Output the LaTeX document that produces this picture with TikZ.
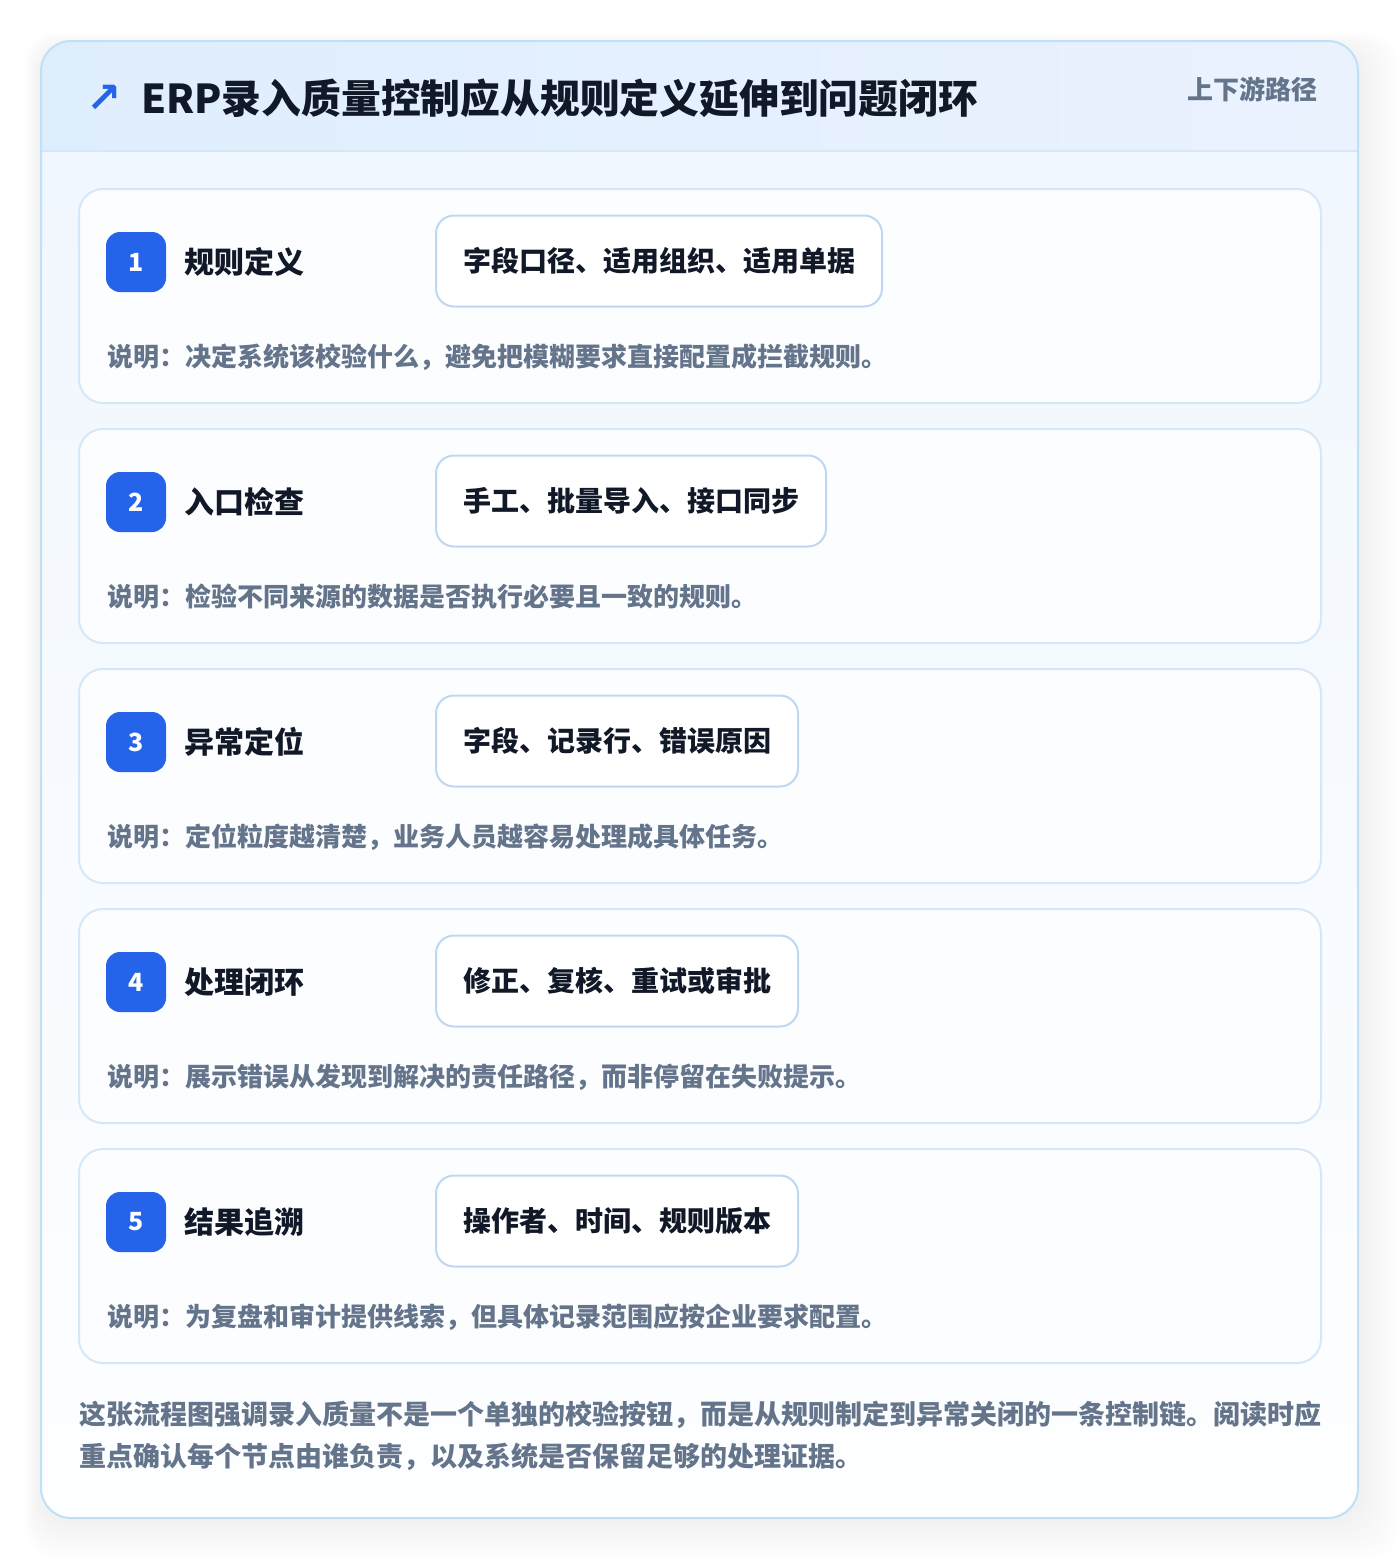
\documentclass[tikz,border=0pt]{standalone}
\usepackage{fontspec}
\setmainfont{Noto Sans CJK SC}
\newfontfamily\symfont{DejaVu Sans}
\usetikzlibrary{positioning}

\definecolor{pageline}{HTML}{BEE1F6}
\definecolor{headleft}{HTML}{DFEEFD}
\definecolor{headright}{HTML}{EAF2FE}
\definecolor{bodytop}{HTML}{F1F7FE}
\definecolor{bodybottom}{HTML}{FDFEFF}
\definecolor{cardline}{HTML}{D6E7F8}
\definecolor{cardfill}{HTML}{FBFDFF}
\definecolor{chipline}{HTML}{BFD7F3}
\definecolor{stepblue}{HTML}{2563EB}
\definecolor{inkdark}{HTML}{111827}
\definecolor{inkgray}{HTML}{64748B}

\begin{document}
\begin{tikzpicture}[x=0.5pt,y=0.5pt,yscale=-1,xscale=1,
  card/.style={draw=cardline, fill=cardfill, line width=1pt, rounded corners=12pt, minimum width=621pt, minimum height=107pt},
  badge/.style={fill=stepblue, text=white, rounded corners=7pt, minimum size=30pt, inner sep=0pt, font=\fontsize{12.5}{15}\selectfont\bfseries},
  steptitle/.style={anchor=west, inner sep=0pt, text=inkdark, font=\fontsize{15}{18}\selectfont\bfseries},
  chip/.style={anchor=west, draw=chipline, fill=white, line width=1pt, rounded corners=9pt, minimum height=45.5pt, inner xsep=13.5pt, text=inkdark, font=\fontsize{14}{17}\selectfont\bfseries},
  note/.style={anchor=west, inner sep=0pt, text=inkgray, font=\fontsize{13}{15}\selectfont\bfseries}]
\useasboundingbox (0,0) rectangle (1400,1560);
\fill[white] (0,0) rectangle (1400,1560);

%Shadow of the panel
\foreach \i in {1,...,14}
  \fill[black, opacity=0.005, rounded corners=16pt] (41-\i*1.2,49-\i*1.2) rectangle (1358+\i*3,1518+\i*3);

%Panel body and header
\begin{scope}
  \clip[rounded corners=15pt] (41,41) rectangle (1358,1518);
  \shade[top color=bodytop, bottom color=bodybottom] (41,151) rectangle (1358,1518);
  \shade[left color=headleft, right color=headright] (41,41) rectangle (1358,151);
\end{scope}
\draw[cardline, line width=1pt] (41,151) -- (1358,151);
\draw[pageline, line width=1pt, rounded corners=15pt] (41,41) rectangle (1358,1518);

% Header text
\node[anchor=west, inner sep=0pt, text=stepblue, font=\symfont\bfseries\fontsize{21}{24}\selectfont] (arrow) at (86,99) {↗};
\node[anchor=west, inner sep=0pt, text=inkdark, font=\fontsize{19.9}{24}\selectfont\bfseries] (title) at (141,98) {ERP录入质量控制应从规则定义延伸到问题闭环};
\node[anchor=east, inner sep=0pt, text=inkgray, font=\fontsize{13}{16}\selectfont\bfseries] (route) at (1318,89) {上下游路径};

%Step 1
\node[card] (card1) at (700,296) {};
\node[badge] (b1) at (136,262) {1};
\node[steptitle, right=9pt of b1] (t1) {规则定义};
\node[chip] (c1) at (435,261) {字段口径、适用组织、适用单据};
\node[note] (d1) at (107,357) {说明：决定系统该校验什么，避免把模糊要求直接配置成拦截规则。};

%Step 2
\node[card] (card2) at (700,536) {};
\node[badge] (b2) at (136,502) {2};
\node[steptitle, right=9pt of b2] (t2) {入口检查};
\node[chip] (c2) at (435,501) {手工、批量导入、接口同步};
\node[note] (d2) at (107,597) {说明：检验不同来源的数据是否执行必要且一致的规则。};

%Step 3
\node[card] (card3) at (700,776) {};
\node[badge] (b3) at (136,742) {3};
\node[steptitle, right=9pt of b3] (t3) {异常定位};
\node[chip] (c3) at (435,741) {字段、记录行、错误原因};
\node[note] (d3) at (107,837) {说明：定位粒度越清楚，业务人员越容易处理成具体任务。};

%Step 4
\node[card] (card4) at (700,1016) {};
\node[badge] (b4) at (136,982) {4};
\node[steptitle, right=9pt of b4] (t4) {处理闭环};
\node[chip] (c4) at (435,981) {修正、复核、重试或审批};
\node[note] (d4) at (107,1077) {说明：展示错误从发现到解决的责任路径，而非停留在失败提示。};

%Step 5
\node[card] (card5) at (700,1256) {};
\node[badge] (b5) at (136,1222) {5};
\node[steptitle, right=9pt of b5] (t5) {结果追溯};
\node[chip] (c5) at (435,1221) {操作者、时间、规则版本};
\node[note] (d5) at (107,1317) {说明：为复盘和审计提供线索，但具体记录范围应按企业要求配置。};

% Text Node
\node[anchor=west, inner sep=0pt, align=left, text=inkgray, font=\fontsize{13.5}{21}\selectfont\bfseries] (summary) at (79,1436)
  {这张流程图强调录入质量不是一个单独的校验按钮，而是从规则制定到异常关闭的一条控制链。阅读时应\\重点确认每个节点由谁负责，以及系统是否保留足够的处理证据。};

\end{tikzpicture}
\end{document}
